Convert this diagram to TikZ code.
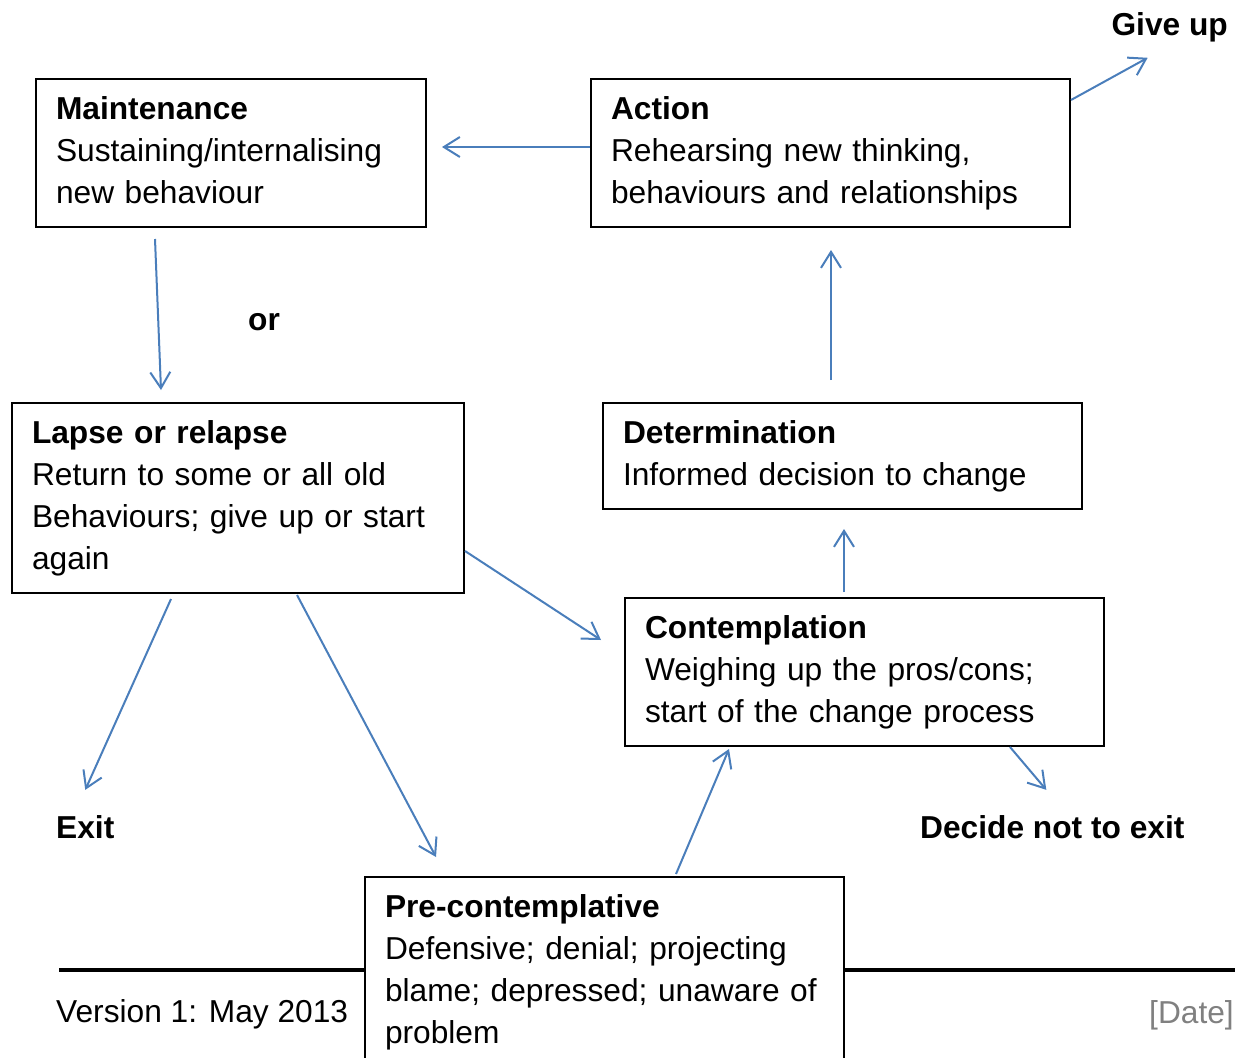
\documentclass[tikz,border=0pt]{standalone}
\usepackage{fontspec}
\setmainfont{Liberation Sans}
\usetikzlibrary{arrows.meta,calc}
\definecolor{flow}{HTML}{4A7EBB}
\definecolor{datecol}{HTML}{808080}
\begin{document}
\begin{tikzpicture}[x=1pt,y=-1pt,
  font=\fontsize{31.7}{42}\selectfont,
  stage/.style={draw=black,line width=2pt,fill=white,anchor=north west,
    align=left,inner xsep=20pt,inner ysep=11pt,text width=#1},
  stage/.default=439pt,
  tag/.style={anchor=base west,inner sep=0pt,font=\fontsize{31.7}{42}\selectfont\bfseries},
  arr/.style={draw=flow,line width=2pt,
    -{Straight Barb[length=16pt,width=20pt,line width=2pt]}}]
\useasboundingbox (0,0) rectangle (1235,1058);
\clip (0,0) rectangle (1235,1058);

% footer rule and footer texts
\draw[line width=4.5pt] (59,970) -- (1235,970);
\node[anchor=base west,inner sep=0pt] (ver) at (56,1022) {Version 1: May 2013};
\node[anchor=base east,inner sep=0pt,text=datecol] (date) at (1234,1023) {[Date]};

% stage boxes
\node[stage=350pt] (maint) at (35,78)
  {\strut\textbf{Maintenance}\\Sustaining/internalising\\new behaviour\strut};
\node[stage] (act) at (590,78)
  {\strut\textbf{Action}\\Rehearsing new thinking,\\behaviours and relationships\strut};
\node[stage=412pt] (lapse) at (11,402)
  {\strut\textbf{Lapse or relapse}\\Return to some or all old\\Behaviours; give up or start\\again\strut};
\node[stage] (det) at (602,402)
  {\strut\textbf{Determination}\\Informed decision to change\strut};
\node[stage] (con) at (624,597)
  {\strut\textbf{Contemplation}\\Weighing up the pros/cons;\\start of the change process\strut};
\node[stage] (pre) at (364,876)
  {\strut\textbf{Pre-contemplative}\\Defensive; denial; projecting\\blame; depressed; unaware of\\problem\strut};

% free labels
\node[tag,anchor=base east] (giveup) at (1228,35) {Give up};
\node[tag] (orlab) at (248,330) {or};
\node[tag] (exit) at (56,838) {Exit};
\node[tag] (decide) at (920,838) {Decide not to exit};

\coordinate (guEnd) at ($(giveup.south)+(-22,16)$);
\coordinate (exitEnd) at ($(exit.north)+(0,-25)$);
\coordinate (decEnd) at ($(decide.north)+(-6,-25)$);

% connectors
\draw[arr] ($(act.north west)+(0,69)$) -- ($(maint.north east)+(15,69)$);
\draw[arr] ($(act.north east)+(0,22)$) -- (guEnd);
\draw[arr] ($(maint.south west)+(120,11)$) -- ($(lapse.north west)+(150,-12)$);
\draw[arr] ($(det.north west)+(229,-22)$) -- ($(act.south west)+(241,22)$);
\draw[arr] ($(con.north west)+(220,-5)$) -- ($(det.south west)+(242,19)$);
\draw[arr] ($(lapse.south east)+(0,-43)$) -- ($(con.north west)+(-23,43)$);
\draw[arr] ($(lapse.south west)+(160,5)$) -- (exitEnd);
\draw[arr] ($(lapse.south west)+(286,1)$) -- ($(pre.north west)+(72,-19)$);
\draw[arr] ($(pre.north west)+(312,-2)$) -- ($(con.south west)+(105,2)$);
\draw[arr] ($(con.south west)+(386,0)$) -- (decEnd);
\end{tikzpicture}
\end{document}
